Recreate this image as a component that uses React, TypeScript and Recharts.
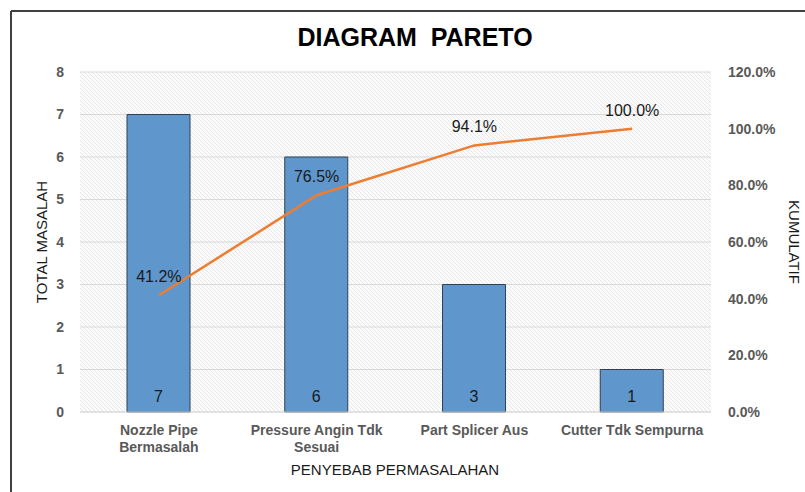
import { Bar, CartesianGrid, ComposedChart, LabelList, Line, XAxis, YAxis } from "recharts";

const categories = ["Nozzle Pipe\nBermasalah", "Pressure Angin Tdk\nSesuai", "Part Splicer Aus", "Cutter Tdk Sempurna"];
const totals = [7, 6, 3, 1];
const cumulative = [41.2, 76.5, 94.1, 100.0];
const countTicks = [0, 1, 2, 3, 4, 5, 6, 7, 8];
const percentTicks = [0, 20, 40, 60, 80, 100, 120];

const data = categories.map((name, i) => ({
  name,
  total: totals[i],
  cum: cumulative[i],
}));

const FONT = "'Liberation Sans', Arial, sans-serif";
const pct = (v: number) => `${Number(v).toFixed(1)}%`;

function CategoryTick({ x, y, payload }: any) {
  const lines = String(payload.value).split("\n");
  return (
    <text x={x} y={y} textAnchor="middle" fill="#595959" fontSize={14} fontWeight="bold" fontFamily={FONT}>
      {lines.map((line, i) => (
        <tspan key={i} x={x} dy={i === 0 ? 15 : 17}>
          {line}
        </tspan>
      ))}
    </text>
  );
}

export default function App() {
  const tickStyle = { fill: "#595959", fontSize: 14, fontWeight: "bold", fontFamily: FONT };
  return (
    <div style={{ position: "absolute", left: 0, top: 0, width: 805, height: 492, background: "#fff" }}>
      <svg width="0" height="0" style={{ position: "absolute" }}>
        <defs>
          <pattern id="hatch" patternUnits="userSpaceOnUse" width="4" height="4">
            <rect width="4" height="4" fill="#fbfbfb" />
            <path d="M-1,-1 L5,5 M-1,3 L1,5 M3,-1 L5,1" stroke="#e2e2e2" strokeWidth="0.8" />
          </pattern>
        </defs>
      </svg>
      <ComposedChart
        width={805}
        height={492}
        data={data}
        margin={{ top: 72, right: 0, bottom: 0, left: 0 }}
        style={{ fontFamily: FONT }}
      >
        <CartesianGrid horizontal vertical={false} stroke="#d9d9d9" fill="url(#hatch)" yAxisId="left" />
        <XAxis
          dataKey="name"
          height={80}
          interval={0}
          tickLine={false}
          axisLine={{ stroke: "#d9d9d9" }}
          tick={<CategoryTick />}
        />
        <YAxis
          yAxisId="left"
          width={80}
          domain={[0, 8]}
          ticks={countTicks}
          tickLine={false}
          axisLine={false}
          tickSize={0}
          tickMargin={16}
          tick={tickStyle}
        />
        <YAxis
          yAxisId="right"
          orientation="right"
          width={94}
          domain={[0, 120]}
          ticks={percentTicks}
          tickFormatter={pct}
          tickLine={false}
          axisLine={false}
          tickSize={0}
          tickMargin={17}
          tick={tickStyle}
        />
        <Bar
          yAxisId="left"
          dataKey="total"
          barSize={63}
          fill="#5F96CC"
          stroke="#2F4256"
          strokeWidth={1}
          isAnimationActive={false}
        >
          <LabelList dataKey="total" position="insideBottom" offset={10} fill="#1a1a1a" fontSize={16} />
        </Bar>
        <Line
          yAxisId="right"
          dataKey="cum"
          stroke="#ED7D31"
          strokeWidth={2.5}
          dot={false}
          isAnimationActive={false}
        >
          <LabelList dataKey="cum" position="top" offset={13} formatter={pct} fill="#1a1a1a" fontSize={16} />
        </Line>
      </ComposedChart>
      <svg
        width={805}
        height={492}
        style={{ position: "absolute", left: 0, top: 0, pointerEvents: "none", fontFamily: FONT }}
      >
        <line x1={11} y1={11} x2={805} y2={11} stroke="#404040" strokeWidth={2} />
        <line x1={11} y1={11} x2={11} y2={492} stroke="#404040" strokeWidth={2} />
        <text x={415} y={46} textAnchor="middle" fontSize={25} fontWeight="bold" fill="#000" style={{ whiteSpace: "pre" }}>
          {"DIAGRAM  PARETO"}
        </text>
        <text x={395} y={475} textAnchor="middle" fontSize={15} fill="#1a1a1a">
          PENYEBAB PERMASALAHAN
        </text>
        <text x={47} y={242} textAnchor="middle" fontSize={15} fill="#1a1a1a" transform="rotate(-90 47 242)">
          TOTAL MASALAH
        </text>
        <text x={789} y={242} textAnchor="middle" fontSize={15} fill="#1a1a1a" transform="rotate(90 789 242)">
          KUMULATIF
        </text>
      </svg>
    </div>
  );
}
